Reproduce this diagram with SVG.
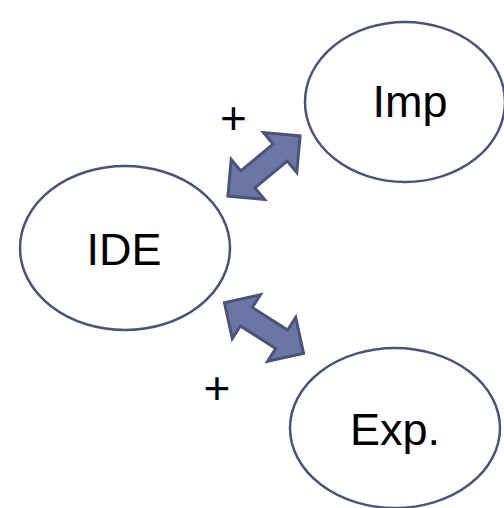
<svg xmlns="http://www.w3.org/2000/svg" width="504" height="508" viewBox="0 0 504 508">
<defs>
<style>
.node{fill:#fff;stroke:#4b5478;stroke-width:2.5}
.lbl{font-family:"Liberation Sans",Arial,sans-serif;font-size:45px;fill:#000;text-anchor:middle}
.plus{font-family:"Liberation Sans",Arial,sans-serif;font-size:46px;fill:#000;text-anchor:middle}
.arr{fill:#6b76a6;stroke:#4b5478;stroke-width:3;stroke-linejoin:miter}
</style>
<polygon id="dbl" class="arr" points="-47,0 -21,-26 -21,-11 21,-11 21,-26 47,0 21,26 21,11 -21,11 -21,26"/>
</defs>
<rect width="504" height="508" fill="#fff"/>
<g id="connectors">
<use href="#dbl" transform="translate(264,166) rotate(-39.8)"/>
<use href="#dbl" transform="translate(264,328) rotate(32.7)"/>
<text class="plus" x="233.5" y="134">+</text>
<text class="plus" x="217" y="404">+</text>
</g>
<g id="IDE">
<ellipse class="node" cx="125" cy="248" rx="105" ry="82"/>
<text class="lbl" x="124" y="265">IDE</text>
</g>
<g id="Imp">
<ellipse class="node" cx="405" cy="102" rx="100" ry="80"/>
<text class="lbl" x="410" y="117">Imp</text>
</g>
<g id="Exp">
<ellipse class="node" cx="395" cy="428" rx="105" ry="80"/>
<text class="lbl" x="395" y="445">Exp.</text>
</g>
</svg>
